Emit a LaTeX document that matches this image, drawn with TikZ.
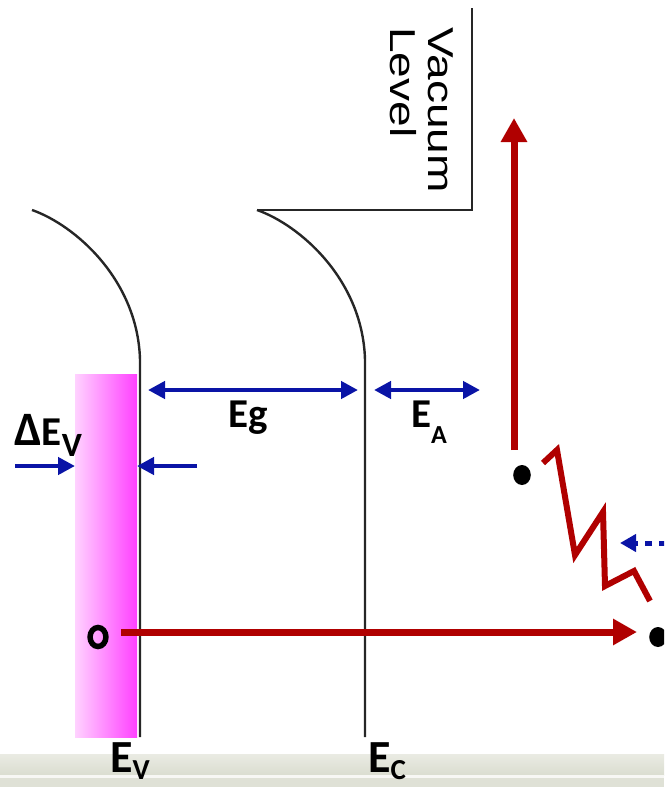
\documentclass[tikz,border=0pt]{standalone}
\usepackage{fontspec}
\setmainfont{Carlito}
\newfontfamily\arialfont{Liberation Sans}
\usetikzlibrary{arrows.meta}

\definecolor{gapblue}{HTML}{0A14A6}
\definecolor{jumpred}{HTML}{B00000}
\definecolor{holepink}{HTML}{FFD2FF}
\definecolor{edgepink}{HTML}{FF40FF}
\definecolor{bandtop}{HTML}{EAEBE3}
\definecolor{bandlow}{HTML}{DADDD0}

\begin{document}
\begin{tikzpicture}[
	x=1pt, y=-1pt,
	level/.style={draw=black!85, line width=2.4pt},
	gap/.style={
		draw=gapblue, line width=4.5pt,
		{Triangle[length=17pt,width=17pt]}-{Triangle[length=17pt,width=17pt]}
	},
	push/.style={
		draw=gapblue, line width=4.5pt,
		-{Triangle[length=17pt,width=17pt]}
	},
	jump/.style={
		draw=jumpred, line width=7pt,
		-{Triangle[length=24pt,width=25pt]}
	},
	lbl/.style={
		inner sep=0pt, anchor=base west,
		font=\bfseries\fontsize{41}{41}\selectfont
	},
	carrier/.style={circle, inner sep=0pt, xscale=0.88},
	]
	
	\clip (0,0) rectangle (664,787);
	
	% Bottom band
	\shade[top color=bandtop, bottom color=bandlow] (0,754) rectangle (664,775);
	\fill[white!60!bandtop] (0,775) rectangle (664,778);
	\fill[bandlow!70!bandtop] (0,778) rectangle (664,787);
	
	% Hole band at the valence edge
	\shade[left color=holepink, right color=edgepink] (75,374) rectangle (137,737);
	
	% Band edges E_V and E_C, vacuum level
	\draw[level] (32,210) .. controls (75,225) and (138,280) .. (140,360) -- (140,737);
	\draw[level] (257,210) .. controls (300,225) and (363,280) .. (365,360) -- (365,737);
	\draw[level] (257,210) -- (472,210) -- (472,8);
	
	\node[rotate=-90, anchor=north west, inner sep=0pt, align=left,
	font=\arialfont\fontsize{36}{38}\selectfont]
	(vac) at (453,27) {\scalebox{1.28}[1]{Vacuum}\\\scalebox{1.28}[1]{Level}};
	
	% Energy spacings
	\coordinate (eg l) at (148,390);
	\coordinate (eg r) at (358,390);
	\coordinate (ea l) at (374,390);
	\coordinate (ea r) at (480,390);
	\draw[gap] (eg l) -- (eg r);
	\draw[gap] (ea l) -- (ea r);
	
	\coordinate (dv a) at (15,466);
	\coordinate (dv b) at (75,466);
	\coordinate (dv c) at (197,466);
	\coordinate (dv d) at (137,466);
	\draw[push] (dv a) -- (dv b);
	\draw[push] (dv c) -- (dv d);
	
	\node[lbl] (eg)  at (228,427) {Eg};
	\node[lbl] (ea)  at (411,427) {E\raisebox{-16pt}{\fontsize{26}{26}\selectfont A}};
	\node[lbl] (dev) at (14,445) {{\fontsize{48}{48}\selectfont Δ}E\raisebox{-11pt}{\fontsize{34}{34}\selectfont V}};
	\node[lbl, font=\bfseries\fontsize{46}{46}\selectfont] (ev) at (110,772)
	{E\raisebox{-7pt}{\fontsize{29}{29}\selectfont V}};
	\node[lbl, font=\bfseries\fontsize{46}{46}\selectfont] (ec) at (368,772)
	{E\raisebox{-7pt}{\fontsize{29}{29}\selectfont C}};
	
	% Carriers
	\node[carrier, draw=black, line width=5.5pt, minimum size=19pt, xscale=0.95] (hole) at (98,637) {};
	\node[carrier, fill=black, minimum size=20pt] (exc) at (522,475) {};
	\node[carrier, fill=black, minimum size=20pt] (out) at (658,637) {};
	
	% Excitation and emission paths
	\coordinate (up foot) at (514,450);
	\coordinate (up tip) at (514,118);
	\draw[jump] (up foot) -- (up tip);
	\coordinate (run foot) at (121,632);
	\coordinate (run tip) at (637,632);
	\draw[jump] (run foot) -- (run tip);
	
	\draw[jumpred, line width=6pt, miter limit=10]
	(543,463) -- (557,450) -- (575,555) -- (603,512) -- (605,586) -- (634,571) -- (650,601);
	
	\coordinate (dot in) at (666,543);
	\coordinate (dot tip) at (620,543);
	\draw[draw=gapblue, line width=5pt, dash pattern=on 7pt off 7pt,
	-{Triangle[length=16pt,width=17pt]}] (dot in) -- (dot tip);
	
\end{tikzpicture}
\end{document}
